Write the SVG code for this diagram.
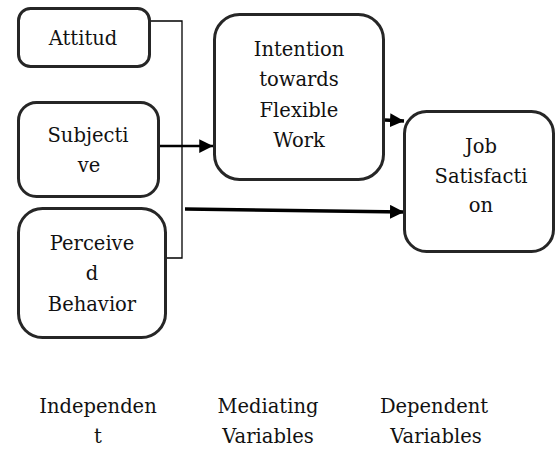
<svg xmlns="http://www.w3.org/2000/svg" width="556" height="450" viewBox="0 0 556 450">
<defs>
<style>
.box{fill:#fff;stroke:#262626;stroke-width:3}
text{font-family:"DejaVu Serif",serif;font-size:19.5px;fill:#111;text-anchor:middle}
.thin{fill:none;stroke:#000;stroke-width:1.3}
.arr{fill:none;stroke:#000;stroke-width:2.5}
.thick{fill:none;stroke:#000;stroke-width:3.5}
</style>
<marker id="ah" viewBox="0 0 10 10" refX="10" refY="5" markerWidth="5.5" markerHeight="5.5" markerUnits="strokeWidth" orient="auto">
<path d="M0,0 L10,5 L0,10 z" fill="#000"/>
</marker>
<marker id="ah2" viewBox="0 0 10 10" refX="10" refY="5" markerWidth="4" markerHeight="4" markerUnits="strokeWidth" orient="auto">
<path d="M0,0 L10,5 L0,10 z" fill="#000"/>
</marker>
</defs>
<rect width="556" height="450" fill="#fff"/>
<g id="connectors">
<path class="thin" d="M151,21 H182 V258 H155"/>
<path class="arr" d="M145,146 H213" marker-end="url(#ah)"/>
<path class="thick" d="M185,209 L404,212" marker-end="url(#ah2)"/>
<path class="thick" d="M385,120 L404,121" marker-end="url(#ah2)"/>
</g>
<g id="attitude">
<rect class="box" x="18.5" y="8.5" width="131" height="58" rx="12"/>
<text x="83" y="45">Attitud</text>
</g>
<g id="subjective">
<rect class="box" x="18.5" y="102.5" width="140" height="94" rx="18"/>
<text x="88" y="142">Subjecti</text>
<text x="89" y="172">ve</text>
</g>
<g id="perceived">
<rect class="box" x="18.5" y="208.5" width="147" height="129" rx="24"/>
<text x="92" y="250">Perceive</text>
<text x="92" y="280">d</text>
<text x="92" y="311">Behavior</text>
</g>
<g id="intention">
<rect class="box" x="214.5" y="14.5" width="169" height="165" rx="25"/>
<text x="299" y="56">Intention</text>
<text x="299" y="86">towards</text>
<text x="299" y="117">Flexible</text>
<text x="299" y="147">Work</text>
</g>
<g id="job">
<rect class="box" x="404.5" y="111.5" width="149" height="140" rx="22"/>
<text x="481" y="153">Job</text>
<text x="481" y="183">Satisfacti</text>
<text x="481" y="212">on</text>
</g>
<g id="labels">
<text x="98" y="413">Independen</text>
<text x="98" y="443">t</text>
<text x="268" y="413">Mediating</text>
<text x="268" y="443">Variables</text>
<text x="434" y="413">Dependent</text>
<text x="436" y="443">Variables</text>
</g>
</svg>
